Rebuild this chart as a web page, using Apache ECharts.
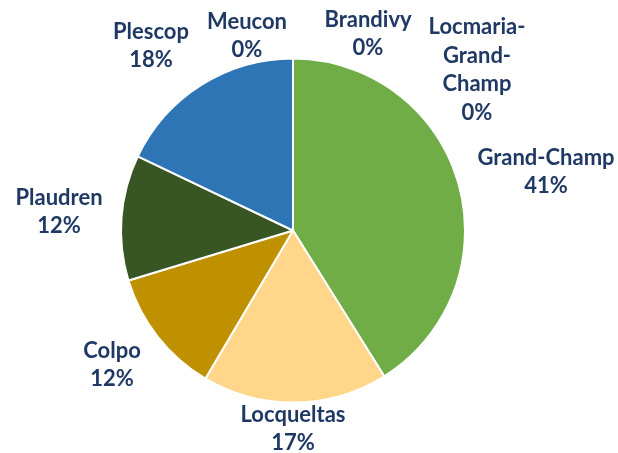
<!DOCTYPE html>
<html>
<head>
<meta charset="utf-8">
<script src="https://cdn.jsdelivr.net/npm/echarts@6/dist/echarts.min.js"></script>
<style>
  html, body { margin: 0; padding: 0; background: #fff; }
  #pie { width: 618px; height: 453px; }
</style>
</head>
<body>
<div id="pie"></div>
<script>
// communes, dans l'ordre du camembert (sens horaire depuis midi)
const communes = ['Brandivy', 'Locmaria-Grand-Champ', 'Grand-Champ', 'Locqueltas', 'Colpo', 'Plaudren', 'Plescop', 'Meucon']
const parts = [0, 0, 41.1, 17.4, 11.8, 11.8, 17.9, 0]
const couleurs = ['#A5A5A5', '#4472C4', '#70AD47', '#FFD68A', '#BF9000', '#375623', '#2E75B6', '#264478']
// position des étiquettes (centre du bloc de texte)
const labelPos = [[368, 34], [477, 70], [546, 172], [293, 429], [112, 365], [59, 212], [151, 46], [247, 36]]

document.addEventListener('DOMContentLoaded', () => {
  const myChart = echarts.init(document.getElementById('pie'))

  const option = {
    animation: false,
    series: [
      {
        type: 'pie',
        center: [293, 230.5],
        radius: 172,
        startAngle: 90,
        clockwise: true,
        percentPrecision: 0,
        avoidLabelOverlap: false,
        data: communes.map((c, i) => ({
          name: c,
          value: parts[i],
          itemStyle: { color: couleurs[i] }
        })),
        itemStyle: {
          borderColor: '#fff',
          borderWidth: 2
        },
        label: {
          show: true,
          position: 'outside',
          formatter: p => {
            const nom = p.name.length > 12 ? p.name.replace(/-/g, '-\n') : p.name
            return nom + '\n' + p.percent + '%'
          },
          fontFamily: 'Lato',
          fontWeight: 'bold',
          fontSize: 22,
          lineHeight: 28.5,
          color: '#1F3864',
          align: 'center'
        },
        labelLine: { show: false },
        labelLayout: params => {
          const pos = labelPos[params.dataIndex]
          return {
            x: pos[0],
            y: pos[1],
            align: 'center',
            verticalAlign: 'middle'
          }
        }
      }
    ]
  }

  option && myChart.setOption(option)
})
</script>
</body>
</html>
